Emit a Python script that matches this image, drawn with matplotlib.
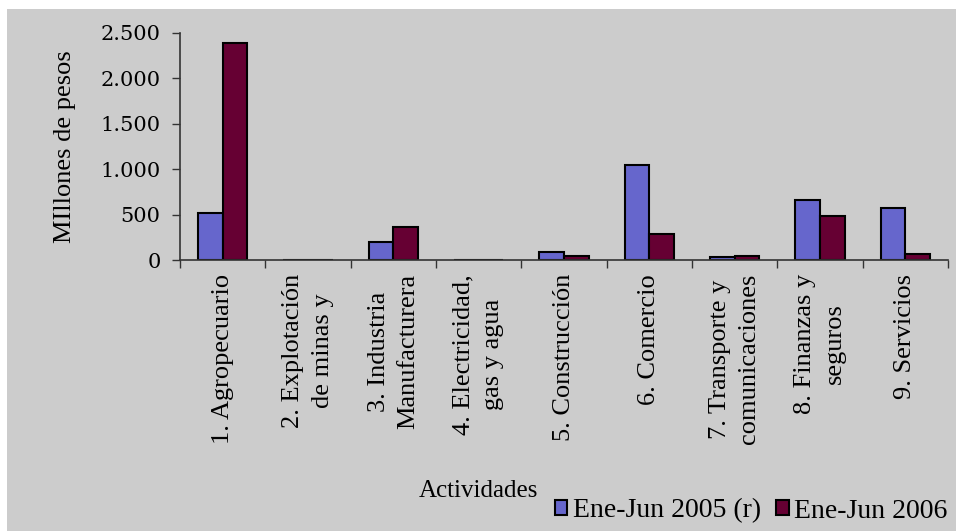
import numpy as np
import matplotlib
matplotlib.use("Agg")
import matplotlib.pyplot as plt
from matplotlib.patches import Rectangle
from matplotlib.ticker import FuncFormatter, FixedLocator

actividades = ["1. Agropecuario", "2. Explotación\nde minas y", "3. Industria\nManufacturera",
               "4. Electricidad,\ngas y agua", "5. Construcción", "6. Comercio",
               "7. Transporte y\ncomunicaciones", "8. Finanzas y\nseguros", "9. Servicios"]
ene_jun_2005 = [520, 0, 195, 0, 85, 1050, 36, 660, 572]
ene_jun_2006 = [2395, 0, 367, 0, 44, 283, 42, 481, 63]
series_names = ["Ene-Jun 2005 (r)", "Ene-Jun 2006"]

bg = "#CCCCCC"
azul = "#6666CC"
vino = "#660033"
serif = "Liberation Serif"

fig = plt.figure(figsize=(9.56, 5.31), dpi=100, facecolor="white")
fig.patches.append(Rectangle((7/956, 0), 1, 1 - 9/531, transform=fig.transFigure,
                             facecolor=bg, edgecolor="none", zorder=-10))

ax = fig.add_axes([180/956, 1 - 260/531, 768/956, 227/531])
ax.set_facecolor(bg)
ax.patch.set_alpha(0)

x = np.arange(len(actividades))
w = 0.29
ax.bar(x - w/2, ene_jun_2005, w, color=azul, edgecolor="black", linewidth=1.5, label=series_names[0])
ax.bar(x + w/2, ene_jun_2006, w, color=vino, edgecolor="black", linewidth=1.5, label=series_names[1])

ax.set_xlim(-0.5, len(actividades) - 0.5)
ax.set_ylim(0, 2500)
ax.set_yticks(np.arange(0, 2501, 500))
ax.yaxis.set_major_formatter(FuncFormatter(lambda v, p: f"{v:,.0f}".replace(",", ".")))

ax.xaxis.set_major_locator(FixedLocator(np.arange(-0.5, len(actividades), 1)))
ax.xaxis.set_minor_locator(FixedLocator(x))
ax.set_xticklabels([], minor=False)
ax.set_xticklabels(actividades, minor=True, rotation=90, ha="center", va="top",
                   multialignment="center", family=serif, fontsize=19, linespacing=1.45)
ax.tick_params(axis="x", which="minor", length=0, pad=10)
ax.tick_params(axis="x", which="major", length=6, width=1, color="#333333")
ax.tick_params(axis="y", length=6, width=1, color="#333333", labelsize=15, pad=8)
for t in ax.get_yticklabels():
    t.set_family("DejaVu Serif")

for s in ["top", "right"]:
    ax.spines[s].set_visible(False)
for s in ["left", "bottom"]:
    ax.spines[s].set_color("#333333")
    ax.spines[s].set_linewidth(1.2)

ax.set_ylabel("MIllones de pesos", family=serif, fontsize=19)
ax.yaxis.set_label_coords(-0.135, 0.5)
ax.set_xlabel("Actividades", family=serif, fontsize=18)
ax.xaxis.set_label_coords(0.388, -0.97)

fig.legend(loc="center left", bbox_to_anchor=(541/956, 1 - 511/531), ncol=2, frameon=False,
           prop={"family": serif, "size": 20}, handlelength=0.45, borderpad=0,
           handleheight=0.45, handletextpad=0.2, columnspacing=0.55)

fig.savefig("out.png", dpi=100, facecolor=fig.get_facecolor())
